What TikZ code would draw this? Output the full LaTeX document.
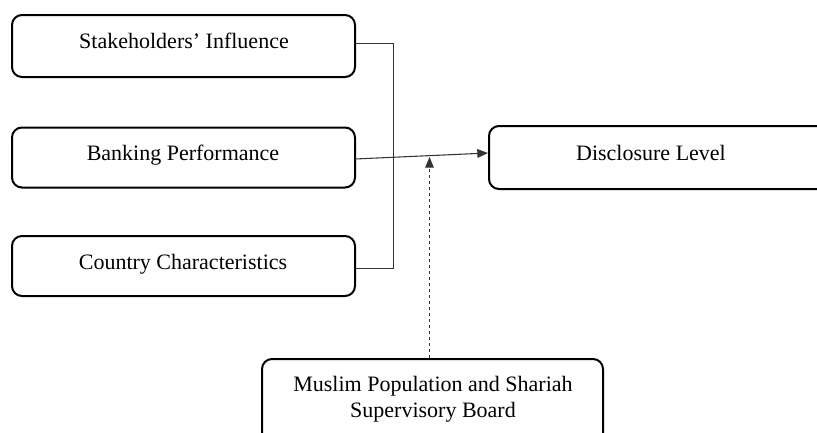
\documentclass[tikz,border=0pt]{standalone}
\usepackage{fontspec}
\setmainfont{Liberation Serif}
\usetikzlibrary{arrows.meta}
\begin{document}
\begin{tikzpicture}[x=0.75pt,y=-0.75pt,
  box/.style={draw=black,line width=1.5pt,rounded corners=7.5pt,inner sep=0pt},
  lbl/.style={inner sep=0pt,anchor=base,font=\fontsize{16.5}{19.5}\selectfont},
  conn/.style={draw=black!80,line width=0.75pt},
  tip/.style={-{Triangle[length=8pt,width=6.5pt]}}]
\useasboundingbox (0,0) rectangle (817,432);
\clip (0,0) rectangle (817,432);
% boxes
\node[box,minimum width=343*0.75pt,minimum height=62*0.75pt] (s) at (183.5,46) {};
\node[box,minimum width=343*0.75pt,minimum height=60*0.75pt] (b) at (183.5,157.5) {};
\node[box,minimum width=343*0.75pt,minimum height=60*0.75pt] (c) at (183.5,266) {};
\node[box,minimum width=420*0.75pt,minimum height=63*0.75pt,anchor=west] (d) at (488,157.5) {};
\node[box,minimum width=341*0.75pt,minimum height=85*0.75pt,anchor=north] (m) at (432.5,358) {};
% texts
\node[lbl] (st) at (184,48) {Stakeholders’ Influence};
\node[lbl] (bt) at (183,160) {Banking Performance};
\node[lbl] (ct) at (183,269) {Country Characteristics};
\node[lbl] (dt) at (651,160) {Disclosure Level};
\node[lbl] (mt1) at (433,391) {Muslim Population and Shariah};
\node[lbl] (mt2) at (433,417) {Supervisory Board};
% connectors
\coordinate (j) at (393,0);
\draw[conn] (s.east |- 0,43) -| (j |- 0,268) -- (c.east |- 0,268);
\coordinate (bs) at (355,159);
\coordinate (de) at (488,153);
\draw[conn,line width=0.8pt,tip] (bs) -- (de);
\coordinate (mtop) at (429.5,157);
\draw[conn,dashed,dash pattern=on 2.5pt off 2pt,tip] (m.north -| mtop) -- (mtop);
\end{tikzpicture}
\end{document}
